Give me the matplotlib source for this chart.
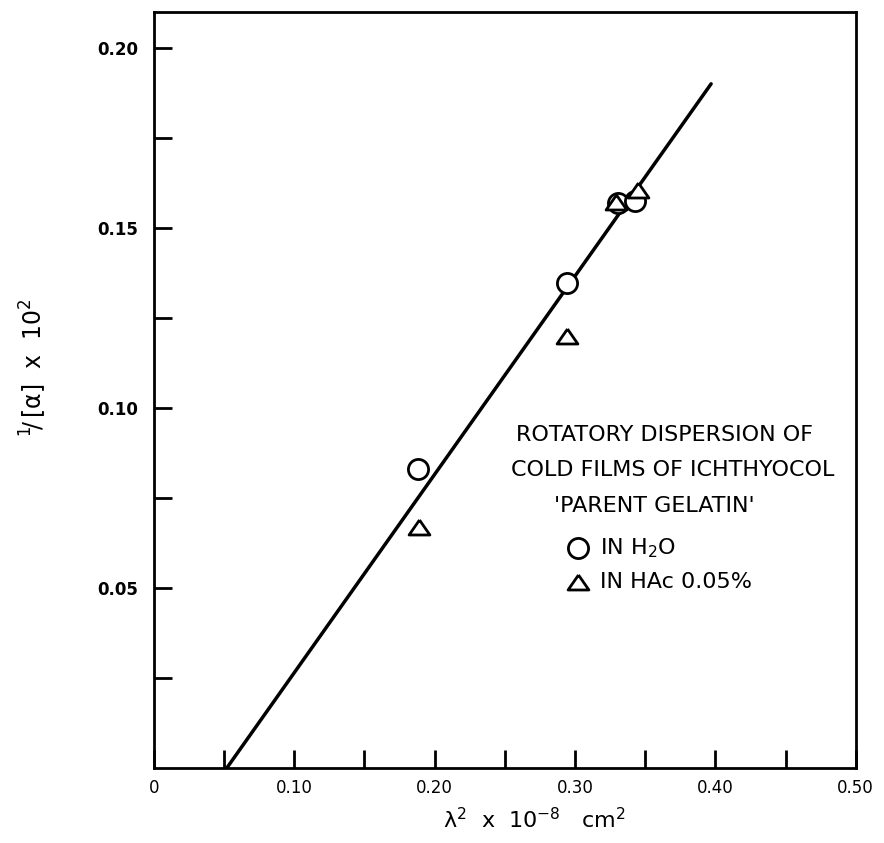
import numpy as np
import matplotlib
matplotlib.use("Agg")
import matplotlib.pyplot as plt
from matplotlib.ticker import FixedLocator

# 1/[alpha] x 10^2 against lambda^2 (x 10^-8 cm^2)
h2o_x = [0.188, 0.294, 0.331, 0.343]
h2o_y = [0.0831, 0.1346, 0.1570, 0.1575]
hac_x = [0.189, 0.294, 0.329, 0.345]
hac_y = [0.0669, 0.1199, 0.1573, 0.1606]

# fitted straight line through the points
fit_x = [0.052, 0.397]
fit_y = [0.0, 0.190]

x_ticks = [0, 0.10, 0.20, 0.30, 0.40, 0.50]
x_labels = ["0", "0.10", "0.20", "0.30", "0.40", "0.50"]
y_ticks = [0.05, 0.10, 0.15, 0.20]
y_labels = ["0.05", "0.10", "0.15", "0.20"]

title_lines = ["ROTATORY DISPERSION OF",
               "COLD FILMS OF ICHTHYOCOL",
               "'PARENT GELATIN'"]
series_names = [r"IN H$_2$O", "IN HAc 0.05%"]

plt.rcParams['font.family'] = ['DejaVu Sans']
plt.rcParams['mathtext.default'] = 'regular'

# flat triangle, wider than tall
tri = [(0, 0.72), (-1, -0.72), (1, -0.72), (0, 0.72)]

fig = plt.figure(figsize=(8.84, 8.43), dpi=100)
ax = fig.add_axes([0.174, 0.089, 0.794, 0.897])

lw = 2.0
ax.plot(fit_x, fit_y, color='black', lw=2.5, solid_capstyle='round', zorder=2)
ax.plot(h2o_x, h2o_y, ls='none', marker='o', ms=14.5, mfc='white', mec='black',
        mew=2.0, zorder=3)
ax.plot(hac_x, hac_y, ls='none', marker=tri, ms=15, mfc='white', mec='black',
        mew=2.0, zorder=3)

ax.set_xlim(0, 0.50)
ax.set_ylim(0, 0.21)

for side in ax.spines.values():
    side.set_linewidth(lw)

ax.xaxis.set_major_locator(FixedLocator(x_ticks))
ax.set_xticklabels(x_labels)
ax.xaxis.set_minor_locator(FixedLocator([0.05, 0.15, 0.25, 0.35, 0.45]))
ax.yaxis.set_major_locator(FixedLocator(y_ticks))
ax.set_yticklabels(y_labels, fontweight='bold')
ax.yaxis.set_minor_locator(FixedLocator([0.025, 0.075, 0.125, 0.175]))

ax.tick_params(axis='both', which='both', direction='in', length=13, width=lw,
               top=False, right=False, labelsize=12)
ax.tick_params(axis='x', which='major', pad=8)
ax.tick_params(axis='y', which='major', pad=11)

ax.set_xlabel(r"$\lambda^{2}$  x  10$^{-8}$   cm$^{2}$", fontsize=16)
ax.xaxis.set_label_coords(0.543, -0.052)
ax.set_ylabel(r"$^{1}\!/\,[\alpha]$  x  10$^{2}$", fontsize=17, va='center')
ax.yaxis.set_label_coords(-0.172, 0.53)

# caption block inside the frame
title_pos = [(0.727, 0.440), (0.739, 0.394), (0.713, 0.347)]
for line, (tx, ty) in zip(title_lines, title_pos):
    ax.text(tx, ty, line, transform=ax.transAxes, ha='center', va='center',
            fontsize=16)

key_y = [0.291, 0.246]
ax.plot([0.604], [key_y[0]], transform=ax.transAxes, marker='o', ms=14.5,
        mfc='white', mec='black', mew=2.0, clip_on=False)
ax.plot([0.604], [key_y[1]], transform=ax.transAxes, marker=tri, ms=15,
        mfc='white', mec='black', mew=2.0, clip_on=False)
for name, ky in zip(series_names, key_y):
    ax.text(0.636, ky, name, transform=ax.transAxes, ha='left', va='center',
            fontsize=16)

fig.savefig("out.png", dpi=100)
